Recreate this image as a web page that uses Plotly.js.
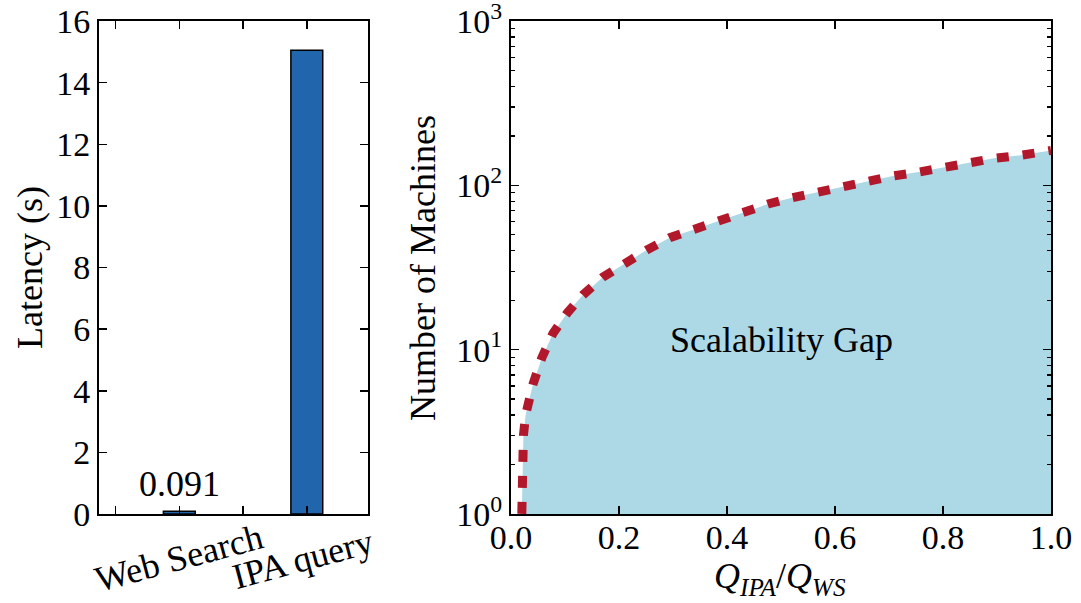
<!DOCTYPE html>
<html>
<head>
<meta charset="utf-8">
<script src="https://cdn.plot.ly/plotly-3.0.1.min.js"></script>
<style>html,body{margin:0;padding:0;background:#fff;}#chart{width:1081px;height:603px;}</style>
</head>
<body>
<div id="chart"></div>
<script>
// ---- data ----
const barCategories = ['Web Search', 'IPA query'];
const barSlots = [1, 3];                 // category slot on the grouped x axis
const latencySeconds = [0.091, 15.05];
const slotTicks = [0, 1, 2, 3];

const qRatio   = [0.020, 0.021, 0.023, 0.027, 0.033, 0.041, 0.057, 0.078, 0.104, 0.133, 0.170, 0.211, 0.252, 0.294, 0.337, 0.383, 0.430, 0.476, 0.520, 0.567, 0.613, 0.659, 0.707, 0.752, 0.802, 0.846, 0.894, 0.941, 0.987, 1.0];
const machines = [1, 2, 3, 4, 5, 6.2, 8.9, 12.6, 16.7, 21.5, 27.6, 34, 40.5, 48, 54, 61.7, 69, 77, 84, 91, 98, 107, 114, 120, 129, 137, 146, 152, 160, 163];

const logTickVals = [1, 10, 100, 1000];
const logTickText = ['10<sup>0</sup>', '10<sup>1</sup>', '10<sup>2</sup>', '10<sup>3</sup>'];
const logMinorVals = [2,3,4,5,6,7,8,9,20,30,40,50,60,70,80,90,200,300,400,500,600,700,800,900];

// ---- layout helpers ----
const W = 1081, H = 603;
const SERIF = 'Liberation Serif, Times New Roman, serif';
const FONT = {family: SERIF, size: 36, color: '#000'};
const TICKFONT = {family: SERIF, size: 34, color: '#000'};
const px = v => v / W;
const py = v => 1 - v / H;

const traces = [
  {
    type: 'bar', x: barSlots, y: latencySeconds, width: 0.5,
    marker: {color: '#2166ac', line: {color: '#000', width: 1.5}},
    xaxis: 'x', yaxis: 'y', hoverinfo: 'skip', showlegend: false
  },
  {
    type: 'scatter', mode: 'lines', x: qRatio, y: machines,
    fill: 'tozeroy', fillcolor: '#add8e6',
    line: {color: '#b2182b', width: 9, dash: '12px,14px'},
    xaxis: 'x2', yaxis: 'y2', hoverinfo: 'skip', showlegend: false
  }
];

const axisBase = {
  showline: true, linecolor: '#000', linewidth: 2, mirror: 'ticks',
  ticks: 'inside', ticklen: 8, tickwidth: 1.5, tickcolor: '#000',
  showgrid: false, zeroline: false, tickfont: TICKFONT, ticklabeloverflow: 'allow'
};
const logRange = [-0.0005, 3.0005];
const minorLog = {ticks: 'inside', ticklen: 4, tickwidth: 1.2, tickcolor: '#000', tickmode: 'array', tickvals: logMinorVals, showgrid: false};

const layout = {
  width: W, height: H,
  margin: {l: 0, r: 0, t: 0, b: 0},
  paper_bgcolor: '#fff', plot_bgcolor: '#fff',
  showlegend: false,
  font: FONT,
  xaxis: Object.assign({}, axisBase, {
    domain: [px(99), px(368)], range: [-0.26, 3.96],
    tickmode: 'array', tickvals: slotTicks, showticklabels: false, anchor: 'y'
  }),
  yaxis: Object.assign({}, axisBase, {
    domain: [py(514), py(21)], range: [0, 16], dtick: 2, tick0: 0,
    ticklabelstandoff: 0, anchor: 'x'
  }),
  xaxis2: Object.assign({}, axisBase, {
    domain: [px(511), px(1051)], range: [0, 1], dtick: 0.2, tick0: 0,
    tickformat: '.1f', ticklabelstandoff: -8, anchor: 'y2'
  }),
  yaxis2: Object.assign({}, axisBase, {
    domain: [py(514), py(21)], type: 'log', range: logRange,
    tickmode: 'array', tickvals: logTickVals, ticktext: logTickText,
    minor: minorLog, ticklabelstandoff: 0, anchor: 'x2'
  }),
  yaxis3: Object.assign({}, axisBase, {
    overlaying: 'y2', side: 'right', anchor: 'x2', type: 'log', range: logRange,
    tickmode: 'array', tickvals: logTickVals, showticklabels: false,
    mirror: false, minor: minorLog
  }),
  annotations: [
    {xref: 'x', yref: 'y', x: barSlots[0], y: latencySeconds[0], text: String(latencySeconds[0]),
     showarrow: false, xanchor: 'center', yanchor: 'bottom', yshift: 5, font: FONT},
    {xref: 'x', yref: 'paper', x: barSlots[0], y: py(558), text: barCategories[0], textangle: -15,
     showarrow: false, xanchor: 'center', yanchor: 'middle', font: FONT},
    {xref: 'x', yref: 'paper', x: barSlots[1], y: py(559), xshift: -4, text: barCategories[1], textangle: -15,
     showarrow: false, xanchor: 'center', yanchor: 'middle', font: FONT},
    {xref: 'paper', yref: 'paper', x: px(30), y: py(268), text: 'Latency (s)', textangle: -90,
     showarrow: false, xanchor: 'center', yanchor: 'middle', font: FONT},
    {xref: 'paper', yref: 'paper', x: px(423), y: py(268), text: 'Number of Machines', textangle: -90,
     showarrow: false, xanchor: 'center', yanchor: 'middle', font: FONT},
    {xref: 'paper', yref: 'paper', x: px(780), y: py(578),
     text: '<i>Q</i><sub><i>IPA</i></sub>/<i>Q</i><sub><i>WS</i></sub>',
     showarrow: false, xanchor: 'center', yanchor: 'middle', font: FONT},
    {xref: 'x2', yref: 'y2', x: 0.5, y: 1.06, text: 'Scalability Gap',
     showarrow: false, xanchor: 'center', yanchor: 'middle', font: FONT}
  ]
};

Plotly.newPlot('chart', traces, layout, {staticPlot: true, displayModeBar: false});
</script>
</body>
</html>
